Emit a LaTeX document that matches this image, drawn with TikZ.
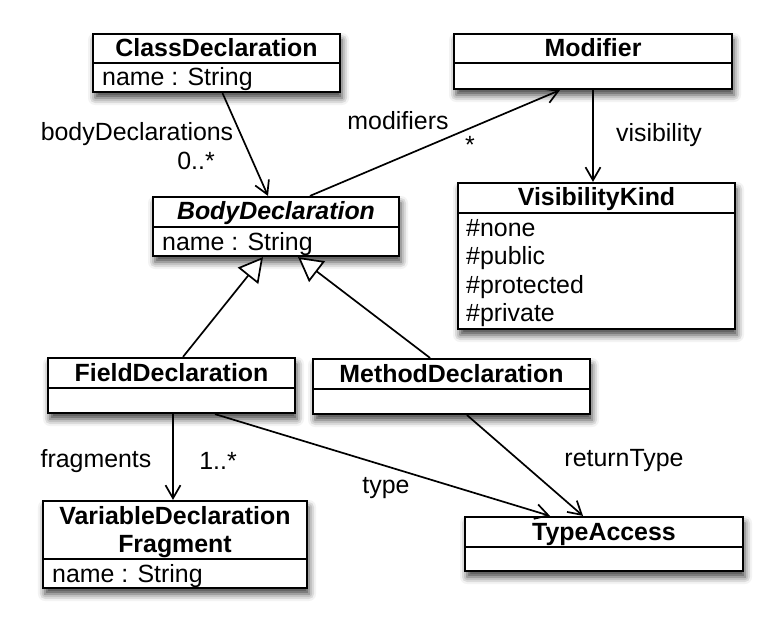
\documentclass[tikz,border=0pt]{standalone}
\usepackage{fontspec}
\setmainfont{Liberation Sans}
\usetikzlibrary{arrows.meta,shadows.blur}
\begin{document}
\begin{tikzpicture}[x=1bp,y=-1bp]
\tikzset{
 classbox/.style={draw, line width=2.2bp, fill=white, inner sep=0pt,
   blur shadow={shadow xshift=2bp, shadow yshift=-6bp, shadow blur radius=7bp, shadow opacity=75}},
 divider/.style={line width=2.2bp},
 hdr/.style={font=\fontsize{25}{29}\selectfont\bfseries, inner sep=0pt, anchor=base},
 attr/.style={font=\fontsize{25}{29}\selectfont, inner sep=0pt, anchor=base west},
 lbl/.style={font=\fontsize{25}{29}\selectfont, inner sep=0pt},
 assoc/.style={line width=1.7bp, -{Straight Barb[length=13bp,width=15bp,line width=1.7bp]}},
 gen/.style={line width=1.7bp, -{Triangle[open,length=24bp,width=26bp,fill=white,line width=1.7bp]}},
}
\useasboundingbox (0,0) rectangle (783,639);

% ClassDeclaration
\node[classbox, minimum width=247bp, minimum height=58bp] (cd) at (216.5,63) {};
\draw[divider] (93,63) -- (340,63);
\node[hdr] (cdh) at (216.5,57) {ClassDeclaration};
\node[attr] (cda) at (102,86) {name : String};

% Modifier
\node[classbox, minimum width=278bp, minimum height=55bp] (mod) at (593,61.5) {};
\draw[divider] (454,63) -- (732,63);
\node[hdr] (modh) at (593,57) {Modifier};

% BodyDeclaration
\node[classbox, minimum width=246bp, minimum height=59bp] (bd) at (276,226.5) {};
\draw[divider] (153,227) -- (399,227);
\node[hdr, font=\fontsize{25}{29}\selectfont\bfseries\itshape] (bdh) at (276,220) {BodyDeclaration};
\node[attr] (bda) at (162,250) {name : String};

% VisibilityKind
\node[classbox, minimum width=277bp, minimum height=146bp] (vk) at (596.5,256) {};
\draw[divider] (458,213) -- (735,213);
\node[hdr] (vkh) at (596.5,206) {VisibilityKind};
\node[attr] (vk1) at (466,236) {\#none};
\node[attr] (vk2) at (466,264.5) {\#public};
\node[attr] (vk3) at (466,293) {\#protected};
\node[attr] (vk4) at (466,321.5) {\#private};

% FieldDeclaration
\node[classbox, minimum width=247bp, minimum height=55bp] (fd) at (171.5,385.5) {};
\draw[divider] (48,388) -- (295,388);
\node[hdr] (fdh) at (171.5,381) {FieldDeclaration};

% MethodDeclaration
\node[classbox, minimum width=277bp, minimum height=55bp] (md) at (451.5,386.5) {};
\draw[divider] (313,389) -- (590,389);
\node[hdr] (mdh) at (451.5,382) {MethodDeclaration};

% VariableDeclarationFragment
\node[classbox, minimum width=264bp, minimum height=87bp] (vdf) at (175,544.5) {};
\draw[divider] (43,559) -- (307,559);
\node[hdr] (vdfh1) at (175,524) {VariableDeclaration};
\node[hdr] (vdfh2) at (175,552) {Fragment};
\node[attr] (vdfa) at (52,582) {name : String};

% TypeAccess
\node[classbox, minimum width=278bp, minimum height=54bp] (ta) at (604,544) {};
\draw[divider] (465,547) -- (743,547);
\node[hdr] (tah) at (604,540) {TypeAccess};

% connectors
\draw[assoc] ([xshift=6bp]cd.south) -- ([xshift=-8bp]bd.north);
\node[lbl] (l1) at (137,134) {bodyDeclarations};
\node[lbl] (l2) at (196,161) {0..*};

\draw[assoc] ([xshift=34bp]bd.north) -- ([xshift=-33bp]mod.south);
\node[lbl] (l3) at (398,121) {modifiers};
\node[lbl] (l4) at (470,145) {*};

\draw[assoc] (mod.south) -- (mod.south |- vk.north);
\node[lbl] (l5) at (659,135) {visibility};

\draw[gen] ([xshift=11.5bp]fd.north) -- ([xshift=-13bp]bd.south);
\draw[gen] ([xshift=-21.5bp]md.north) -- ([xshift=22bp]bd.south);

\draw[assoc] ([xshift=1.5bp]fd.south) -- ([xshift=1.5bp]fd.south |- vdf.north);
\node[lbl] (l6) at (96,461) {fragments};
\node[lbl] (l7) at (218,461) {1..*};

\draw[assoc] ([xshift=43.5bp]fd.south) -- ([xshift=-54bp]ta.north);
\node[lbl] (l8) at (386,488) {type};

\draw[assoc] ([xshift=15.5bp]md.south) -- ([xshift=-21bp]ta.north);
\node[lbl] (l9) at (624,461) {returnType};
\end{tikzpicture}
\end{document}
